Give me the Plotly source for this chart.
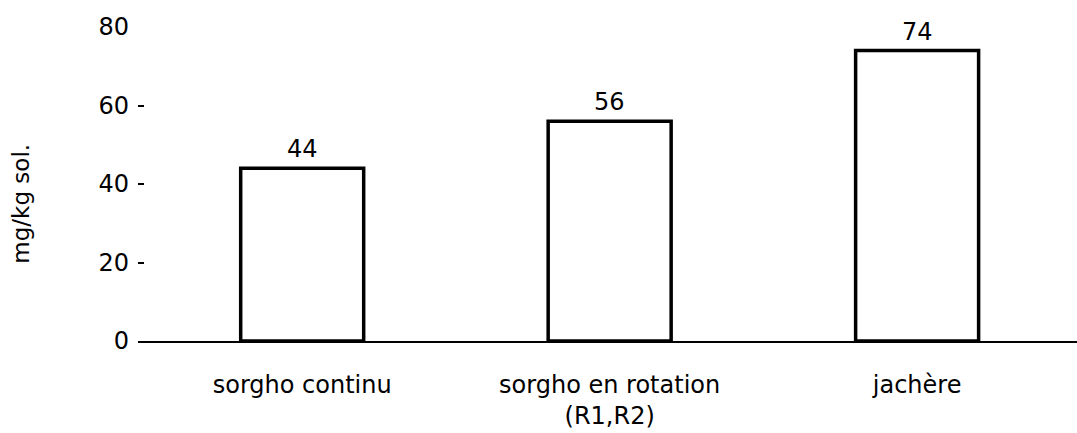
import plotly.graph_objects as go

categories = ["sorgho continu", "sorgho en rotation<br>(R1,R2)", "jachère"]
values = [44, 56, 74]
y_ticks = [0, 20, 40, 60, 80]
y_title = "mg/kg sol."

FONT = "DejaVu Sans"
FS = 24

fig = go.Figure()
fig.add_trace(go.Bar(
    x=categories, y=values,
    width=0.4,
    marker=dict(color="white", line=dict(color="black", width=3.5)),
    showlegend=False, hoverinfo="skip",
))

for c, v in zip(categories, values):
    fig.add_annotation(x=c, y=v, text=str(v), showarrow=False,
                       xref="x", yref="y", yanchor="bottom", yshift=3,
                       font=dict(family=FONT, size=FS, color="black"))

fig.add_annotation(x=0, y=35, xref="paper", yref="y", text=y_title,
                   textangle=-90, showarrow=False, xanchor="center",
                   yanchor="middle", xshift=-117,
                   font=dict(family=FONT, size=FS - 1, color="black"))

fig.update_layout(
    width=1077, height=433,
    margin=dict(l=138, r=0, t=27, b=92),
    paper_bgcolor="white", plot_bgcolor="white",
    font=dict(family=FONT, size=FS, color="black"),
)
fig.update_xaxes(
    range=[-0.534, 2.52], showline=True, linecolor="black", linewidth=1.5,
    showgrid=False, zeroline=False, ticks="", ticklabelstandoff=21,
    tickfont=dict(family=FONT, size=FS, color="black"),
)
fig.update_yaxes(
    range=[0, 80], tickvals=y_ticks, showline=False, showgrid=False,
    zeroline=False, ticks="inside", ticklen=6, tickwidth=1.5,
    tickcolor="black", ticklabelstandoff=8,
    tickfont=dict(family=FONT, size=FS, color="black"),
)

fig.write_html(
    "out.html",
    config={"displayModeBar": False},
    post_script="document.body.style.margin='0';document.body.style.overflow='hidden';",
)
